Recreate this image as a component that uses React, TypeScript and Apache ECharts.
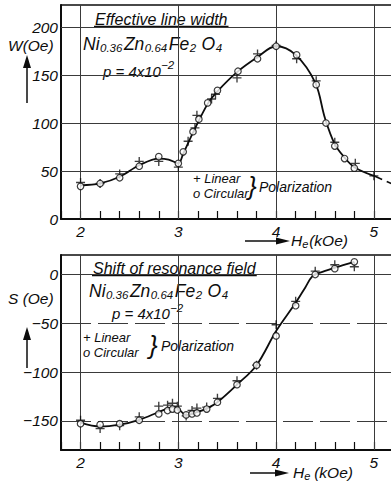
import React, { useEffect, useRef } from "react";
import * as echarts from "echarts";

const FONT = '"Liberation Sans", Arial, sans-serif';
const INK = "#0d0d0d";
const GRID_INK = "#3a3a3a";

// External field H_e (kOe): labelled gridlines
const fieldTicks = [2, 3, 4, 5];

// Effective line width W (Oe) versus H_e (kOe)
const widthCircular: [number, number][] = [
  [2.0, 34], [2.2, 37], [2.4, 43], [2.6, 55], [2.8, 65], [3.0, 58], [3.05, 70],
  [3.15, 91], [3.21, 104], [3.3, 121], [3.4, 134], [3.61, 154], [3.81, 167],
  [4.0, 180], [4.21, 171], [4.41, 140], [4.51, 100], [4.6, 76], [4.7, 63], [4.8, 53],
];
const widthLinear: [number, number][] = [
  [2.0, 38], [2.2, 37], [2.4, 47], [2.6, 60], [2.8, 60], [3.0, 54], [3.1, 81],
  [3.17, 95], [3.19, 108], [3.34, 125], [3.38, 130], [3.6, 147], [3.81, 172],
  [4.0, 181], [4.21, 167], [4.41, 144], [4.6, 80], [4.81, 58], [5.0, 45],
];
const widthCurve: [number, number][] = [
  [2.0, 35], [2.2, 37], [2.4, 44], [2.6, 56], [2.8, 63], [2.9, 62], [3.0, 58],
  [3.05, 68], [3.15, 90], [3.3, 120], [3.4, 133], [3.6, 153], [3.8, 168],
  [4.0, 180], [4.2, 171], [4.4, 142], [4.5, 105], [4.6, 78], [4.7, 64],
  [4.8, 54], [5.0, 45],
];
const widthCurveTail: [number, number][] = [[5.0, 45], [5.18, 37]];
const widthGridValues = [50, 100, 150, 200];

// Shift of resonance field S (Oe) versus H_e (kOe)
const shiftCircular: [number, number][] = [
  [2.0, -153], [2.2, -154], [2.4, -153], [2.6, -149.5], [2.8, -143], [2.89, -139.5],
  [2.94, -138], [2.99, -139], [3.08, -144], [3.14, -143], [3.19, -142], [3.29, -138],
  [3.4, -131], [3.6, -113], [3.8, -93], [4.0, -63], [4.2, -32], [4.4, 0],
  [4.6, 6], [4.8, 13],
];
const shiftLinear: [number, number][] = [
  [2.0, -149.5], [2.2, -158], [2.4, -155], [2.6, -146], [2.8, -135], [2.89, -134],
  [2.94, -132], [2.99, -135], [3.08, -145], [3.14, -139.5], [3.19, -137], [3.29, -136],
  [3.4, -127], [3.6, -109], [3.8, -93], [4.0, -51.5], [4.2, -27.5], [4.4, 3.4],
  [4.6, 10], [4.8, 8],
];
const shiftCurve: [number, number][] = [
  [2.0, -152], [2.2, -156], [2.4, -154], [2.6, -149], [2.8, -141], [2.9, -137],
  [2.97, -136], [3.08, -144], [3.2, -141], [3.3, -137], [3.4, -131], [3.6, -113],
  [3.8, -93], [4.0, -58], [4.2, -29], [4.3, -13], [4.37, -2], [4.45, 2],
  [4.6, 7], [4.8, 13],
];
const shiftGridValues = [0, -50, -100, -150];

const PLUS = "path://M3.4,0H4.6V3.4H8V4.6H4.6V8H3.4V4.6H0V3.4H3.4Z";

const X_MIN = 1.8;
const X_MAX = 5.175;

export default function App() {
  const ref = useRef<HTMLDivElement>(null);

  useEffect(() => {
    if (!ref.current) return;
    const chart = echarts.init(ref.current, undefined, { renderer: "svg" });

    const ctx = document.createElement("canvas").getContext("2d")!;
    const measure = (s: string, font: string) => {
      ctx.font = font;
      return ctx.measureText(s).width;
    };
    const it = (size: number) => `italic ${size}px ${FONT}`;

    const text = (t: string, x: number, y: number, size: number, extra: any = {}) => ({
      type: "text",
      x,
      y,
      silent: true,
      style: { text: t, font: it(size), fill: INK, align: "left", verticalAlign: "middle", ...extra },
    });

    const formula = (x0: number, y: number) => {
      const parts: [string, boolean][] = [
        ["Ni", false], ["0.36", true], ["Zn", false], ["0.64", true],
        ["Fe", false], ["2", true], ["O", false], ["4", true],
      ];
      const els: any[] = [];
      let x = x0;
      for (const [t, sub] of parts) {
        const size = sub ? 11.5 : 17.5;
        if (t === "O") x += 4;
        els.push(text(t, x, y + (sub ? 4 : 0), size));
        x += measure(t, it(size)) + (sub ? 1.5 : 0.5);
      }
      return els;
    };

    const pRow = (x0: number, y: number) => {
      const main = "p = 4x10";
      const w = measure(main, it(15));
      return [text(main, x0, y, 15), text("\u22122", x0 + w, y - 6, 11.5)];
    };

    const title = (t: string, x: number, y: number) => {
      const w = measure(t, it(16));
      return [
        text(t, x, y, 16),
        { type: "line", silent: true, shape: { x1: x - 1, y1: y + 7.5, x2: x + w + 1, y2: y + 7.5 }, style: { stroke: INK, lineWidth: 1.4 } },
      ];
    };

    const upArrow = (x: number, tip: number, end: number) => [
      { type: "line", silent: true, shape: { x1: x, y1: tip + 10, x2: x, y2: end }, style: { stroke: INK, lineWidth: 1.5 } },
      { type: "polygon", silent: true, shape: { points: [[x, tip], [x - 4, tip + 13], [x + 4, tip + 13]] }, style: { fill: INK } },
    ];
    const rightArrow = (x0: number, tip: number, y: number) => [
      { type: "line", silent: true, shape: { x1: x0, y1: y, x2: tip - 10, y2: y }, style: { stroke: INK, lineWidth: 1.5 } },
      { type: "polygon", silent: true, shape: { points: [[tip, y], [tip - 14, y - 3.5], [tip - 14, y + 3.5]] }, style: { fill: INK } },
    ];
    const fieldName = (x: number, y: number, gap: number) => {
      const wH = measure("H", it(15.5));
      return [text("H", x, y, 15.5), text("e", x + wH, y + 4, 11), text("(kOe)", x + wH + 7 + gap, y, 15.5)];
    };
    const legend = (x: number, y: number, braceX: number, polX: number) => [
      text("+ Linear", x, y, 13),
      text("o Circular", x, y + 15, 13),
      text("}", braceX, y + 8, 26, { font: `italic 26px ${FONT}` }),
      text("Polarization", polX, y + 9, 14),
    ];

    const xLabel = (v: number) =>
      Math.abs(v - Math.round(v)) < 1e-6 && v > 1.9 && v < 5.1 ? String(Math.round(v)) : "";

    const xAxisBottom = (gridIndex: number) => ({
      type: "value",
      gridIndex,
      position: "bottom",
      min: X_MIN,
      max: X_MAX,
      interval: 0.2,
      axisLine: { show: true, onZero: false, lineStyle: { color: INK, width: 2 } },
      axisTick: { show: true, inside: true, length: 8, lineStyle: { color: INK, width: 1.2 } },
      axisLabel: { formatter: xLabel, margin: 4, fontFamily: FONT, fontStyle: "italic", fontSize: 15.5, color: INK, showMaxLabel: false },
      splitLine: { show: false },
    });
    const xAxisTop = (gridIndex: number) => ({
      type: "value",
      gridIndex,
      position: "top",
      min: X_MIN,
      max: X_MAX,
      axisLine: { show: true, onZero: false, lineStyle: { color: INK, width: 1.5 } },
      axisTick: { show: false },
      axisLabel: { show: false },
      splitLine: { show: false },
    });

    const gridLines = (xs: number[], ys: number[], dashedY: number[]) => ({
      silent: true,
      z: 1,
      symbol: ["none", "none"],
      label: { show: false },
      animation: false,
      lineStyle: { color: GRID_INK, width: 1, type: "solid" },
      data: [
        ...xs.map((v) => ({ xAxis: v })),
        ...ys.map((v) => ({
          yAxis: v,
          lineStyle: { color: GRID_INK, width: 1, type: dashedY.includes(v) ? [30, 7] : "solid" },
        })),
      ],
    });

    const markers = (data: [number, number][], idx: number, circle: boolean) => ({
      type: "scatter",
      xAxisIndex: idx * 2,
      yAxisIndex: idx,
      z: circle ? 4 : 3,
      data,
      symbol: circle ? "circle" : PLUS,
      symbolSize: circle ? 6.5 : 9,
      itemStyle: circle ? { color: "#fff", borderColor: INK, borderWidth: 1.2 } : { color: INK },
    });

    const yLabelStyle = {
      margin: 3,
      fontFamily: FONT,
      fontStyle: "italic",
      fontSize: 15.5,
      color: INK,
    };

    const option: any = {
      animation: false,
      backgroundColor: "#fff",
      grid: [
        { left: 61, top: 5, width: 330, height: 214 },
        { left: 61, top: 255, width: 330, height: 195 },
      ],
      xAxis: [xAxisBottom(0), xAxisTop(0), xAxisBottom(1), xAxisTop(1)],
      yAxis: [
        {
          type: "value",
          gridIndex: 0,
          min: 0,
          max: 223,
          interval: 50,
          axisLine: { show: true, lineStyle: { color: INK, width: 2 } },
          axisTick: { show: false },
          splitLine: { show: false },
          axisLabel: {
            ...yLabelStyle,
            formatter: (v: number) => (v % 50 === 0 ? String(v) : ""),
            showMaxLabel: false,
          },
        },
        {
          type: "value",
          gridIndex: 1,
          min: -180,
          max: 20,
          interval: 10,
          axisLine: { show: true, lineStyle: { color: INK, width: 2 } },
          axisTick: { show: false },
          splitLine: { show: false },
          axisLabel: {
            ...yLabelStyle,
            formatter: (v: number) => (v % 50 === 0 ? (v < 0 ? "\u2212" + Math.abs(v) : String(v)) : ""),
          },
        },
      ],
      series: [
        {
          type: "line",
          xAxisIndex: 0,
          yAxisIndex: 0,
          z: 2,
          data: widthCurve,
          smooth: 0.35,
          showSymbol: false,
          lineStyle: { color: INK, width: 1.8 },
          markLine: gridLines(fieldTicks, widthGridValues, []),
        },
        {
          type: "line",
          xAxisIndex: 0,
          yAxisIndex: 0,
          z: 2,
          data: widthCurveTail,
          showSymbol: false,
          lineStyle: { color: INK, width: 1.6, type: [9, 5] },
        },
        markers(widthLinear, 0, false),
        markers(widthCircular, 0, true),
        {
          type: "line",
          xAxisIndex: 2,
          yAxisIndex: 1,
          z: 2,
          data: shiftCurve,
          smooth: 0.35,
          showSymbol: false,
          lineStyle: { color: INK, width: 1.8 },
          markLine: gridLines(fieldTicks, shiftGridValues, [-50, -150]),
        },
        markers(shiftLinear, 1, false),
        markers(shiftCircular, 1, true),
      ],
      graphic: [
        // upper panel
        ...title("Effective line width", 95, 19),
        ...formula(83, 44),
        ...pRow(103, 71),
        text("W(Oe)", 8, 45, 15.5),
        ...upArrow(27, 55, 103),
        ...rightArrow(245, 290, 241),
        ...fieldName(291, 240, 0),
        ...legend(193, 178, 248, 259),
        // lower panel
        ...title("Shift of resonance field", 93, 268),
        ...formula(89, 291),
        ...pRow(112, 313.5),
        text("S (Oe)", 8, 298, 15.5),
        ...upArrow(27, 327, 368),
        ...rightArrow(250, 289, 473),
        ...fieldName(293, 472, 3),
        ...legend(83, 337, 149, 161),
      ],
    };

    chart.setOption(option);
    return () => chart.dispose();
  }, []);

  return (
    <div
      ref={ref}
      style={{ position: "absolute", left: 0, top: 0, width: 391, height: 485, background: "#fff" }}
    />
  );
}
